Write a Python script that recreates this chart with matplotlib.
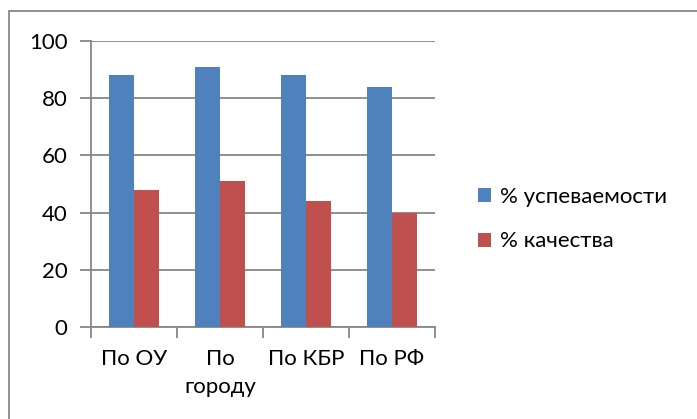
import numpy as np
import matplotlib.pyplot as plt
from matplotlib.patches import Rectangle

categories = ['По ОУ', 'По\nгороду', 'По КБР', 'По РФ']
uspev = [88, 91, 88, 84]
kach = [48, 51, 44, 40]
series_names = ['% успеваемости', '% качества']

plt.rcParams['font.family'] = ['Lato', 'DejaVu Sans']
fs = 16

W, H = 697, 419
fig = plt.figure(figsize=(W / 100, H / 100), dpi=100)

# рамка вокруг всей диаграммы
fig.patches.append(Rectangle((9 / W, -0.1), 1.2, (H - 11) / H + 0.1,
                             transform=fig.transFigure, fill=False,
                             edgecolor='#888888', linewidth=1.3))

ax = fig.add_axes([91 / W, (H - 327) / H, (435 - 91) / W, (327 - 41) / H])

x = np.arange(len(categories))
w = 0.286
b1 = ax.bar(x - w / 2, uspev, w, color='#4F81BD', label=series_names[0], zorder=3)
b2 = ax.bar(x + w / 2, kach, w, color='#C0504D', label=series_names[1], zorder=3)

ax.set_xlim(-0.5, len(categories) - 0.5)
ax.set_ylim(0, 100)
ax.set_yticks(range(0, 101, 20))
ax.grid(axis='y', color='#878787', linewidth=1.3, zorder=0)

ax.set_xticks(x)
ax.set_xticklabels(categories, fontsize=fs, linespacing=1.5)
ax.set_xticks(np.arange(-0.5, len(categories)), minor=True)
ax.tick_params(axis='x', which='major', length=0, pad=16)
ax.tick_params(axis='x', which='minor', length=8, width=1.3, color='#878787')
ax.tick_params(axis='y', length=8, width=1.3, color='#878787', labelsize=fs, pad=9)

for s in ['top', 'right']:
    ax.spines[s].set_visible(False)
for s in ['left', 'bottom']:
    ax.spines[s].set_color('#878787')
    ax.spines[s].set_linewidth(1.3)

fig.legend(handles=[b1, b2], loc='upper left', bbox_to_anchor=(478 / W, 1 - 187 / H),
           frameon=False, fontsize=fs, handlelength=0.6, handleheight=0.6,
           handletextpad=0.4, labelspacing=1.1, borderpad=0, borderaxespad=0)

fig.savefig('out.png', dpi=100)
